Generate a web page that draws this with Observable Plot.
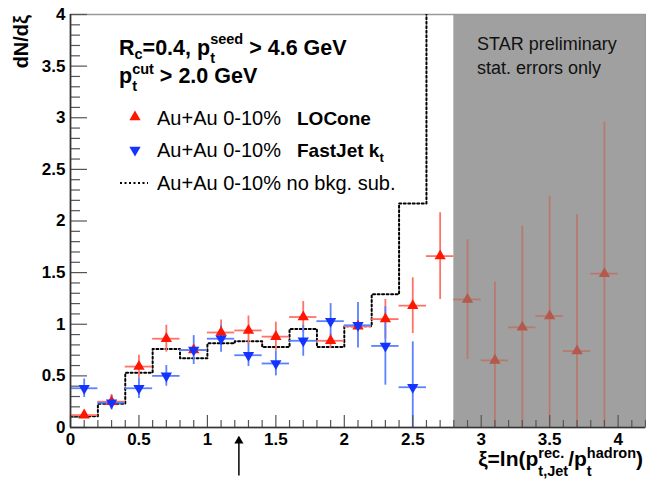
<!DOCTYPE html>
<html><head><meta charset="utf-8">
<script src="https://cdn.jsdelivr.net/npm/d3@7"></script>
<script src="https://cdn.jsdelivr.net/npm/@observablehq/plot@0.6"></script>
<style>body{margin:0;background:#fff}</style>
</head><body>
<script>
const FONT = "'Liberation Sans', Arial, Helvetica, sans-serif";

// ---- data ----
const binWidth = 0.2;
const locX   = [0.1,0.3,0.5,0.7,0.9,1.1,1.3,1.5,1.7,1.9,2.1,2.3,2.5,2.7,2.9,3.1,3.3,3.5,3.7,3.9];
const locY   = [0.12,0.25,0.59,0.86,0.75,0.92,0.94,0.88,1.07,0.84,0.98,1.05,1.18,1.66,1.24,0.65,0.97,1.08,0.74,1.49];
const locErr = [0.03,0.07,0.11,0.13,0.03,0.12,0.14,0.14,0.15,0.07,0.05,0.19,0.27,0.42,0.58,0.76,0.98,1.16,1.32,1.47];
const fjX    = [0.1,0.3,0.5,0.7,0.9,1.1,1.3,1.5,1.7,1.9,2.1,2.3,2.5];
const fjY    = [0.38,0.24,0.38,0.50,0.75,0.86,0.70,0.62,0.84,1.03,0.99,0.79,0.39];
const fjErr  = [0.09,0.07,0.10,0.10,0.14,0.13,0.11,0.12,0.15,0.17,0.22,0.38,0.44];
const histLow = [0,0.2,0.4,0.6,0.8,1.0,1.2,1.4,1.6,1.8,2.0,2.2,2.4,2.6];
const histY   = [0.11,0.23,0.53,0.76,0.67,0.815,0.835,0.78,0.955,0.78,0.98,1.29,2.17,4.4];
const previewFrom = 2.8;
const xDomain = [0, 4.2];
const yDomain = [0, 4];
const xMajor = [0,0.5,1,1.5,2,2.5,3,3.5,4];
const yMajor = [0,0.5,1,1.5,2,2.5,3,3.5,4];
const xMinor = d3.range(0, 43).map(i => i / 10).filter(v => !xMajor.includes(v));
const yMinor = d3.range(0, 41).map(i => i / 10).filter(v => !yMajor.includes(v));
const arrowX = [1.23];
const arrowY = [-0.47, -0.1];

// ---- tables ----
const loc = locX.map((x, i) => ({x, y: locY[i], e: locErr[i]}));
const locIn = loc.filter(d => d.x < previewFrom);
const locOut = loc.filter(d => d.x > previewFrom);
const fj = fjX.map((x, i) => ({x, y: fjY[i], e: fjErr[i]}));
const hist = histLow.map((x, i) => ({x, y: histY[i]}));
hist.push({x: histLow[histLow.length - 1] + binWidth, y: histY[histY.length - 1]});
const preview = [{x1: previewFrom, x2: xDomain[1], y1: yDomain[0], y2: yDomain[1]}];

const RED = "#ff1500", RED_E = "#ff7268";
const RED2 = "#b4594b", RED2_E = "#b87a70";
const BLUE = "#1433ff", BLUE_E = "#5a82ff";
const TICK = "#555";

const triDown = {draw(ctx, size) {
  const y = Math.sqrt(size / (Math.sqrt(3) * 3)), s = Math.sqrt(3) * y;
  ctx.moveTo(0, 2 * y); ctx.lineTo(-s, -y); ctx.lineTo(s, -y); ctx.closePath();
}};

function errs(data, color, w = 1.8) {
  return [
    Plot.ruleX(data, {x: "x", y1: d => d.y - d.e, y2: d => d.y + d.e, stroke: color, strokeWidth: w, clip: true}),
    Plot.ruleY(data, {y: "y", x1: d => d.x - binWidth / 2, x2: d => d.x + binWidth / 2, stroke: color, strokeWidth: w, clip: true})
  ];
}

const svg = Plot.plot({
  width: 646, height: 480,
  marginLeft: 70, marginRight: 1, marginTop: 14, marginBottom: 53,
  style: {background: "white", fontFamily: FONT, fontSize: "17px", fontWeight: "bold", color: "black", overflow: "visible"},
  x: {domain: xDomain, ticks: xMajor, tickSize: 0, tickPadding: 5, tickFormat: d => String(d), label: null},
  y: {domain: yDomain, ticks: yMajor, tickSize: 0, tickPadding: 5, tickFormat: d => String(d), label: null},
  marks: [
    Plot.rect(preview, {x1: "x1", x2: "x2", y1: "y1", y2: "y2", fill: "#a0a0a0"}),
    Plot.frame({stroke: "#999", strokeWidth: 1.5}),
    Plot.line(hist, {x: "x", y: "y", curve: "step-after", stroke: "black", strokeWidth: 2, strokeDasharray: "2,2.5", clip: true}),
    ...errs(locIn, RED_E),
    ...errs(locOut, RED2_E),
    ...errs(fj, BLUE_E),
    Plot.dot(locIn, {x: "x", y: "y", symbol: "triangle", r: 4.2, fill: RED}),
    Plot.dot(locOut, {x: "x", y: "y", symbol: "triangle", r: 4.2, fill: RED2}),
    Plot.dot(fj, {x: "x", y: "y", symbol: triDown, r: 4.2, fill: BLUE}),
    Plot.ruleY(yMinor, {y: d => d, x1: xDomain[0], x2: xDomain[0], insetRight: -10, stroke: TICK, strokeWidth: 1.2}),
    Plot.ruleY(yMajor, {y: d => d, x1: xDomain[0], x2: xDomain[0], insetRight: -17, stroke: TICK, strokeWidth: 1.2}),
    Plot.ruleX(xMinor, {x: d => d, y1: yDomain[0], y2: yDomain[0], insetTop: -7, stroke: TICK, strokeWidth: 1.2}),
    Plot.ruleX(xMajor, {x: d => d, y1: yDomain[0], y2: yDomain[0], insetTop: -12, stroke: TICK, strokeWidth: 1.2}),
    Plot.ruleX([xDomain[0]], {stroke: "#333", strokeWidth: 1.6}),
    Plot.ruleY([yDomain[0]], {stroke: "#333", strokeWidth: 1.6}),
    Plot.ruleX(arrowX, {x: d => d, y1: arrowY[0], y2: arrowY[1], stroke: "black", strokeWidth: 1.5}),
    Plot.dot(arrowX, {x: d => d, y: arrowY[1] - 0.03, symbol: "triangle", r: 3.4, fill: "black"})
  ]
});
document.body.append(svg);

const S = d3.select(svg);
function rich(x, y, parts, anchor = "start") {
  const g = S.append("g").attr("text-anchor", "start");
  let cx = 0, ps = 0, pw = 0;
  for (const p of parts) {
    const start = p.stack ? ps : cx;
    const t = g.append("text")
      .attr("x", start).attr("y", p.dy || 0)
      .attr("text-anchor", "start")
      .attr("font-family", FONT).attr("font-size", p.s)
      .attr("font-weight", p.w || "normal").attr("fill", p.c || "black")
      .style("white-space", "pre").text(p.t);
    const w = t.node().getComputedTextLength();
    if (p.stack) cx = start + Math.max(pw, w);
    else { ps = start; pw = w; cx = start + w; }
  }
  g.attr("transform", `translate(${anchor === "end" ? x - cx : x},${y})`);
}

// header
rich(119, 55, [
  {t: "R", s: 21.5, w: "bold"}, {t: "c", s: 14.5, w: "bold", dy: 4},
  {t: "=0.4, p", s: 21.5, w: "bold"},
  {t: "seed", s: 14.5, w: "bold", dy: -11}, {t: "t", s: 14.5, w: "bold", dy: 8, stack: true},
  {t: " > 4.6 GeV", s: 21.5, w: "bold"}
]);
rich(119, 83, [
  {t: "p", s: 21.5, w: "bold"},
  {t: "cut", s: 14.5, w: "bold", dy: -9}, {t: "t", s: 14.5, w: "bold", dy: 8, stack: true},
  {t: " > 2.0 GeV", s: 21.5, w: "bold"}
]);

// legend
S.append("path").attr("transform", "translate(135,117)")
  .attr("d", d3.symbol(d3.symbolTriangle, Math.PI * 4.2 * 4.2)()).attr("fill", RED);
S.append("path").attr("transform", "translate(135,150)")
  .attr("d", d3.symbol(triDown, Math.PI * 4.2 * 4.2)()).attr("fill", BLUE);
S.append("line").attr("x1", 120).attr("x2", 148).attr("y1", 183).attr("y2", 183)
  .attr("stroke", "black").attr("stroke-width", 2).attr("stroke-dasharray", "2,2.5");
rich(157, 125, [{t: "Au+Au 0-10%", s: 20}]);
rich(297, 125, [{t: "LOCone", s: 19, w: "bold"}]);
rich(157, 157, [{t: "Au+Au 0-10%", s: 20}]);
rich(297, 157, [{t: "FastJet k", s: 19, w: "bold"}, {t: "t", s: 13, w: "bold", dy: 5}]);
rich(157, 190, [{t: "Au+Au 0-10% no bkg. sub.", s: 20}]);

// preliminary note
rich(477, 50, [{t: "STAR preliminary", s: 18, c: "#111"}]);
rich(477, 74, [{t: "stat. errors only", s: 18, c: "#111"}]);

// axis titles
rich(643, 466, [
  {t: "ξ=ln(p", s: 21, w: "bold"},
  {t: "rec.", s: 14.5, w: "bold", dy: -8}, {t: "t,Jet", s: 14.5, w: "bold", dy: 10, stack: true},
  {t: "/p", s: 21, w: "bold"},
  {t: "hadron", s: 14.5, w: "bold", dy: -8}, {t: "t", s: 14.5, w: "bold", dy: 10, stack: true},
  {t: ")", s: 21, w: "bold"}
], "end");
S.append("text").attr("transform", "translate(28,15) rotate(-90)")
  .attr("text-anchor", "end").attr("font-family", FONT).attr("font-size", 20)
  .attr("font-weight", "bold").attr("fill", "black").text("dN/dξ");
</script></body></html>
